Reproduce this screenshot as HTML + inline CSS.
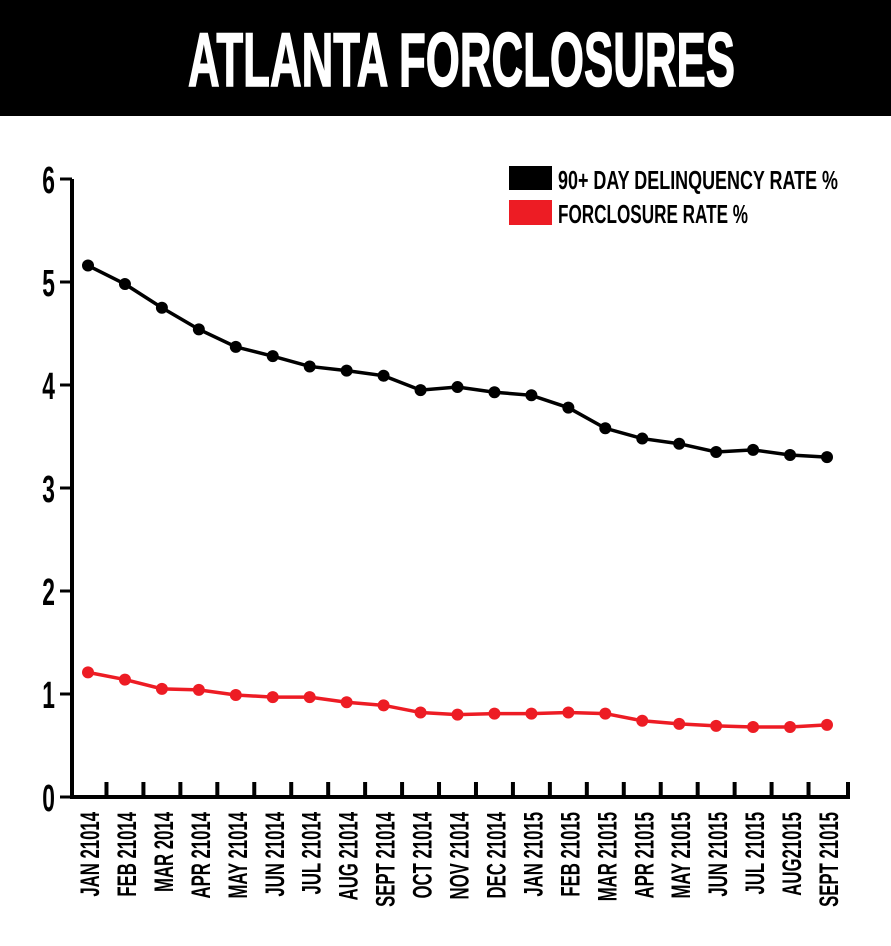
<!DOCTYPE html>
<html><head><meta charset="utf-8"><style>
html,body{margin:0;padding:0;background:#fff;}
svg{display:block;font-family:"Liberation Sans",sans-serif;font-weight:bold;}
</style></head><body>
<svg id="chart" width="891" height="946" viewBox="0 0 891 946">
<rect x="0" y="0" width="891" height="116" fill="#000"/>
<text x="188" y="86" font-size="76" fill="#fff" textLength="547" lengthAdjust="spacingAndGlyphs" stroke="#fff" stroke-width="1.5">ATLANTA FORCLOSURES</text>
<g id="axes"></g>
<g id="series"></g>
<g>
<rect x="509" y="166" width="43" height="24" fill="#000"/>
<text x="558" y="189" font-size="26" textLength="280" lengthAdjust="spacingAndGlyphs">90+ DAY DELINQUENCY RATE %</text>
<rect x="509" y="200" width="43" height="25" fill="#ed1c24"/>
<text x="558" y="223" font-size="26" textLength="190" lengthAdjust="spacingAndGlyphs">FORCLOSURE RATE %</text>
</g>
</svg>
<script>
const categories=["JAN 21014","FEB 21014","MAR 2014","APR 21014","MAY 21014","JUN 21014","JUL 21014","AUG 21014","SEPT 21014","OCT 21014","NOV 21014","DEC 21014","JAN 21015","FEB 21015","MAR 21015","APR 21015","MAY 21015","JUN 21015","JUL 21015","AUG21015","SEPT 21015"];
const delinquency=[5.16,4.98,4.75,4.54,4.37,4.28,4.18,4.14,4.09,3.95,3.98,3.93,3.90,3.78,3.58,3.48,3.43,3.35,3.37,3.32,3.30];
const forclosure=[1.21,1.14,1.05,1.04,0.99,0.97,0.97,0.92,0.89,0.82,0.80,0.81,0.81,0.82,0.81,0.74,0.71,0.69,0.68,0.68,0.70];
const yTicks=[0,1,2,3,4,5,6];
const NS="http://www.w3.org/2000/svg";
const x0=72,x1=848,y0=797,y6=179;
function y(v){return y0-(v/6)*(y0-y6);}
function x(i){return 88+i*(827-88)/(categories.length-1);}
function mk(tag,attrs,parent){const e=document.createElementNS(NS,tag);for(const k in attrs)e.setAttribute(k,attrs[k]);parent.appendChild(e);return e;}
const axes=document.getElementById('axes');
let ax=mk('path',{d:`M${x0} ${y6} V${y0} H${x1} V${y0-15}`,fill:'none',stroke:'#000','stroke-width':4},axes);


yTicks.forEach(t=>{
  const l=mk('line',{x1:x0-12,x2:x0,y1:y(t),y2:y(t),stroke:'#000','stroke-width':3},axes);
  
  
  const tx=mk('text',{x:0,y:0,'font-size':38,'text-anchor':'end',transform:`translate(${x0-17} ${y(t)+14}) scale(0.6 1)`},axes);
  tx.textContent=t;
  
  
});
categories.forEach((c,i)=>{
  if(i<categories.length-1){
    const tx0=(x(i)+x(i+1))/2;
    const l=mk('line',{x1:tx0,x2:tx0,y1:y0-15,y2:y0,stroke:'#000','stroke-width':4},axes);
    
    
  }
  const lx=x(i)+11;
  const t=mk('text',{x:0,y:0,'font-size':27,'text-anchor':'end',transform:`translate(${lx} 812) rotate(-90) scale(0.62 1)`},axes);
  t.textContent=c;
  
  
});
const series=document.getElementById('series');
function draw(vals,color,name){
  const p=mk('polyline',{points:vals.map((v,i)=>x(i)+','+y(v)).join(' '),fill:'none',stroke:color,'stroke-width':3.5},series);
  
  
  vals.forEach((v,i)=>{
    const c=mk('circle',{cx:x(i),cy:y(v),r:6,fill:color},series);
    
    
  });
}
draw(delinquency,'#000','delinquency');
draw(forclosure,'#ed1c24','forclosure');
</script>
</body></html>
